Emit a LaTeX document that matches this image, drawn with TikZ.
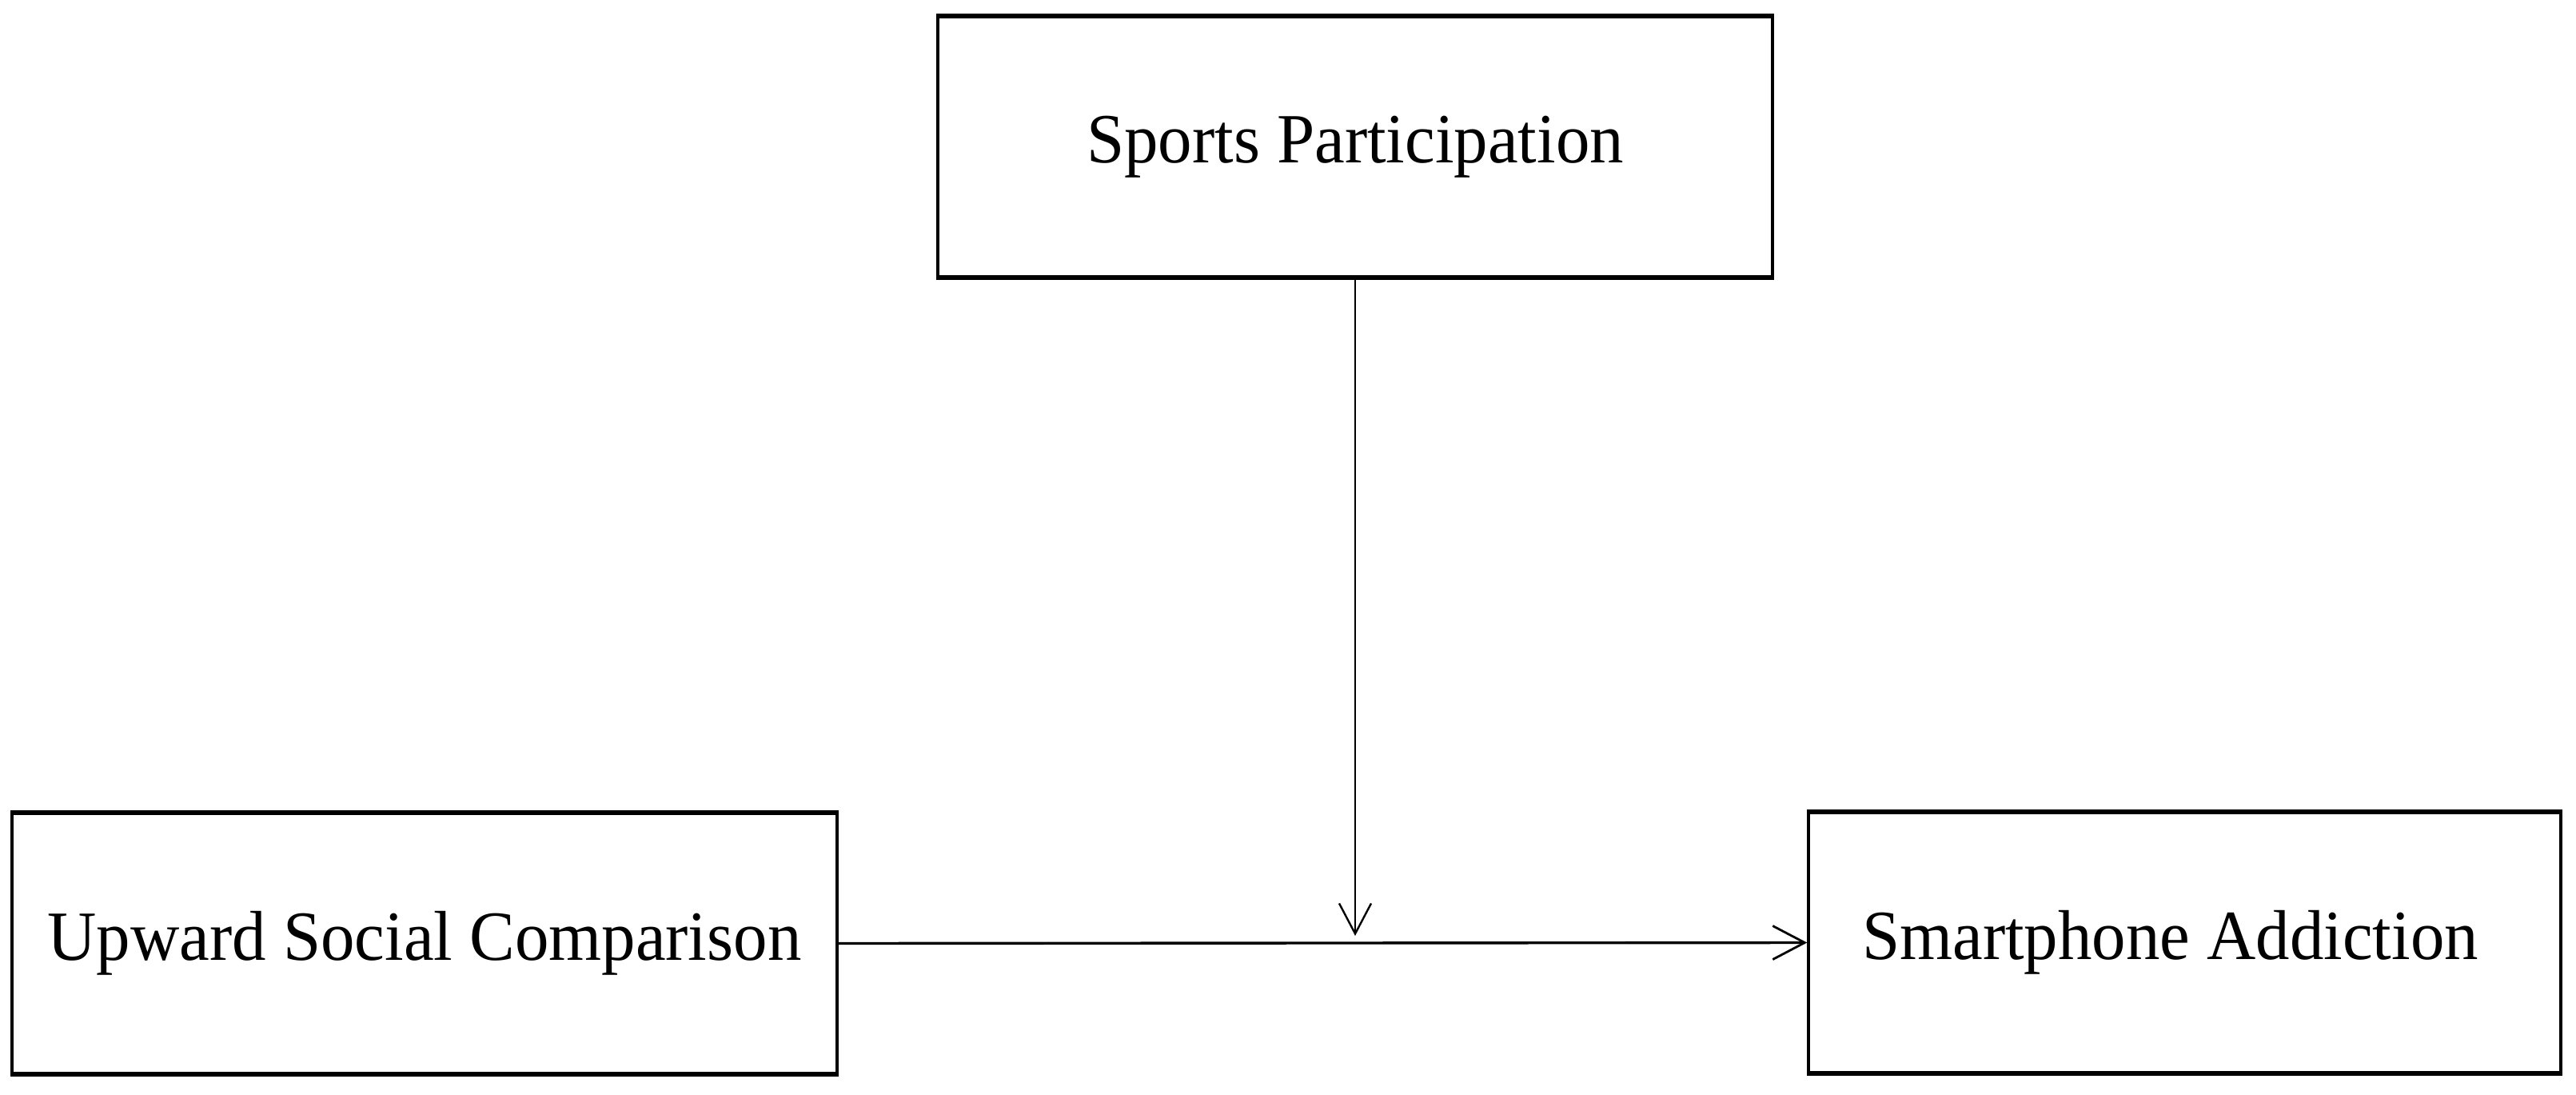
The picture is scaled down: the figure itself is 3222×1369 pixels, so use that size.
\documentclass[tikz,border=0pt]{standalone}
\usepackage{fontspec}
\setmainfont{Liberation Serif}
\usetikzlibrary{arrows.meta}
\newcommand{\vtext}[1]{\scalebox{1.02}[1.06]{#1}}
\tikzset{
  varbox/.style={draw=black, line width=0.85pt, rectangle, inner sep=0pt, minimum height=81pt,
    font=\fontsize{20.8}{25}\selectfont},
  hedge/.style={line width=1.2pt},
  conn/.style={line width=0.85pt, -{Straight Barb[length=10pt,width=10.5pt,line width=0.7pt]}},
  vconn/.style={line width=0.6pt, -{Straight Barb[length=9.5pt,width=10pt,line width=0.6pt]}}
}
\begin{document}
\begin{tikzpicture}[x=0.25pt,y=-0.25pt]
\useasboundingbox (0,0) rectangle (3222,1369);
\fill[white] (0,0) rectangle (3222,1369);
\node[varbox, minimum width=261pt] (sp) at (1695,183.5) {\vtext{Sports Participation}};
\node[varbox, minimum width=258pt] (usc) at (531,1179.5) {\vtext{Upward Social Comparison}};
\node[varbox, minimum width=235.25pt] (sa) at (2732.5,1178.5) {\hspace*{-9pt}\vtext{Smartphone Addiction}};
\foreach \n in {sp,usc,sa}{
  \draw[hedge] (\n.north west) -- (\n.north east);
  \draw[hedge] (\n.south west) -- (\n.south east);
}
\coordinate (m) at (1695,1170);
\draw[conn] (usc.east) -- (sa.west);
\draw[vconn] (sp.south) -- (m);
\end{tikzpicture}
\end{document}
